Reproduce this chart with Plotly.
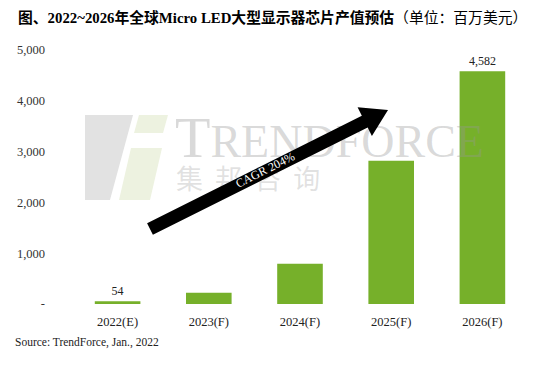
import plotly.graph_objects as go
import math

categories = ["2022(E)", "2023(F)", "2024(F)", "2025(F)", "2026(F)"]
values = [54, 220, 790, 2820, 4582]
label_text = ["54", "", "", "", "4,582"]
ytick_vals = [0, 1000, 2000, 3000, 4000, 5000]
ytick_text = ["-", "1,000", "2,000", "3,000", "4,000", "5,000"]

W, H = 539, 366
ML, MR, MT, MB = 72, 11, 50, 62
PW, PH = W - ML - MR, H - MT - MB

def px(x):
    return (x - ML) / PW

def py(y):
    return (H - MB - y) / PH

def path(points):
    return "M " + " L ".join(f"{px(a):.4f},{py(b):.4f}" for a, b in points) + " Z"

SERIF = "Liberation Serif, Times New Roman, serif"

fig = go.Figure()
fig.add_trace(go.Bar(
    x=categories, y=values, marker_color="#76b02a", marker_line_width=0,
    text=label_text, textposition="outside", cliponaxis=False,
    textfont=dict(family=SERIF, size=12, color="#222"), hoverinfo="skip",
))
# watermark text (overlay axes in paper-like units, drawn over bars semi-transparently)
fig.add_trace(go.Scatter(
    x=[px(175)], y=[py(142)], xaxis="x2", yaxis="y2", mode="text",
    text=["T<span style='font-size:46px'>RENDFORCE</span>"], textposition="middle right",
    textfont=dict(family=SERIF, size=58, color="rgba(150,150,150,0.36)"), hoverinfo="skip",
))
fig.add_trace(go.Scatter(
    x=[px(176)], y=[py(182)], xaxis="x2", yaxis="y2", mode="text",
    text=["集  邦  咨  询"], textposition="middle right",
    textfont=dict(family="Noto Sans CJK SC", size=27, color="rgba(150,150,150,0.28)"), hoverinfo="skip",
))

shapes = []
# watermark logo
shapes.append(dict(type="path", xref="paper", yref="paper", layer="below",
                   path=path([(85, 115), (133, 115), (110, 200), (85, 200)]),
                   fillcolor="#e2e2e2", line_width=0))
shapes.append(dict(type="path", xref="paper", yref="paper", layer="below",
                   path=path([(139, 115), (168, 115), (163, 133), (134, 133)]),
                   fillcolor="#edf2e0", line_width=0))
shapes.append(dict(type="path", xref="paper", yref="paper", layer="below",
                   path=path([(131, 148), (162, 148), (150, 200), (119, 200)]),
                   fillcolor="#edf2e0", line_width=0))

# arrow
tail = (150, 229)
tip = (388, 110)
dx, dy = tip[0] - tail[0], tip[1] - tail[1]
L = math.hypot(dx, dy)
ux, uy = dx / L, dy / L
nx, ny = -uy, ux
hw, headw, headl = 6.5, 16, 26
bx, by = tip[0] - ux * headl, tip[1] - uy * headl
pts = [
    (tail[0] + nx * hw, tail[1] + ny * hw),
    (bx + nx * hw, by + ny * hw),
    (bx + nx * headw, by + ny * headw),
    tip,
    (bx - nx * headw, by - ny * headw),
    (bx - nx * hw, by - ny * hw),
    (tail[0] - nx * hw, tail[1] - ny * hw),
]
shapes.append(dict(type="path", xref="paper", yref="paper", layer="above", path=path(pts),
                   fillcolor="black", line_width=0))
angle = math.degrees(math.atan2(dy, dx))

annotations = [
    dict(text="<b>图、2022~2026年全球Micro LED大型显示器芯片产值预估</b>（单位：百万美元）",
         xref="paper", yref="paper", x=px(16), y=py(17), xanchor="left", yanchor="middle",
         showarrow=False, font=dict(family="Liberation Serif, Noto Sans CJK SC", size=14.8, color="black")),
    dict(text="Source: TrendForce, Jan., 2022", xref="paper", yref="paper",
         x=px(13), y=py(342), xanchor="left", yanchor="middle", showarrow=False,
         font=dict(family=SERIF, size=11.5, color="#222")),
    dict(text="CAGR 204%", xref="paper", yref="paper", x=px(265), y=py(170),
         xanchor="center", yanchor="middle", textangle=angle, showarrow=False,
         font=dict(family=SERIF, size=12, color="white")),
]

fig.update_layout(
    width=W, height=H, margin=dict(l=ML, r=MR, t=MT, b=MB),
    paper_bgcolor="white", plot_bgcolor="rgba(0,0,0,0)",
    bargap=0.5, showlegend=False, shapes=shapes, annotations=annotations,
    xaxis=dict(showgrid=False, showline=False, zeroline=False, ticks="",
               tickfont=dict(family=SERIF, size=12.5, color="#222"), ticklabelstandoff=8),
    yaxis=dict(range=[0, 5000], tickvals=ytick_vals, ticktext=ytick_text,
               showgrid=False, zeroline=False, showline=False, ticks="",
               tickfont=dict(family=SERIF, size=12.5, color="#333"), ticklabelstandoff=26),
    xaxis2=dict(overlaying="x", range=[0, 1], visible=False, anchor="y2"),
    yaxis2=dict(overlaying="y", range=[0, 1], visible=False, anchor="x2"),
)
fig.write_html("out.html", config={"displayModeBar": False},
               post_script="document.body.style.margin='0';")
